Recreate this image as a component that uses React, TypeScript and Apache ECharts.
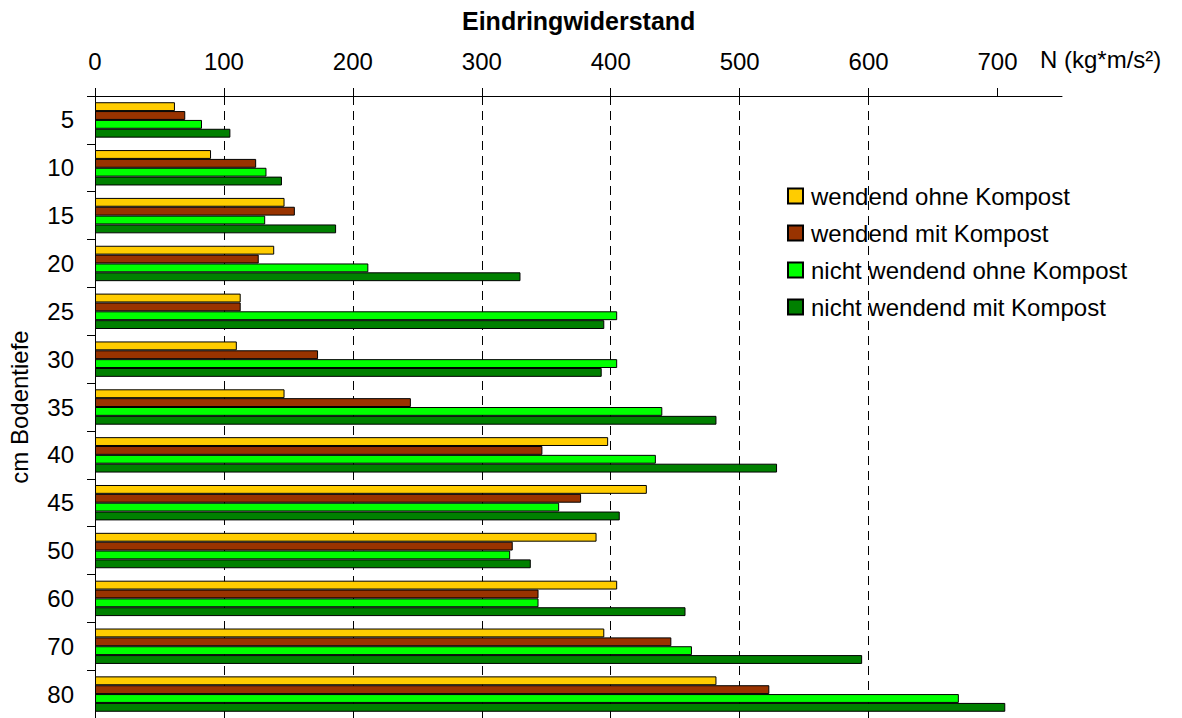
import React, { useEffect, useRef } from "react";
import * as echarts from "echarts";

const categories = ["5", "10", "15", "20", "25", "30", "35", "40", "45", "50", "60", "70", "80"];
const xTicks = [0, 100, 200, 300, 400, 500, 600, 700];
const xMax = 750;

const seriesNames = [
  "wendend ohne Kompost",
  "wendend mit Kompost",
  "nicht wendend ohne Kompost",
  "nicht wendend mit Kompost",
];
const seriesColors = ["#FFCC00", "#993300", "#00FF00", "#008000"];

const wendendOhne = [62, 90, 147, 139, 113, 110, 147, 398, 428, 389, 405, 395, 482];
const wendendMit = [70, 125, 155, 127, 113, 173, 245, 347, 377, 324, 344, 447, 523];
const nichtWendendOhne = [83, 133, 132, 212, 405, 405, 440, 435, 360, 322, 344, 463, 670];
const nichtWendendMit = [105, 145, 187, 330, 395, 393, 482, 529, 407, 338, 458, 595, 706];

const seriesData = [wendendOhne, wendendMit, nichtWendendOhne, nichtWendendMit];

const FONT = "'Liberation Sans', Arial, sans-serif";

export default function App() {
  const ref = useRef<HTMLDivElement>(null);

  useEffect(() => {
    if (!ref.current) return;
    const chart = echarts.init(ref.current, null, { renderer: "svg" });
    chart.setOption({
      animation: false,
      backgroundColor: "#ffffff",
      textStyle: { fontFamily: FONT, color: "#000" },
      title: {
        text: "Eindringwiderstand",
        left: 457,
        top: 3,
        textStyle: { fontFamily: FONT, fontSize: 25, fontWeight: "bold", color: "#000" },
      },
      legend: {
        orient: "vertical",
        left: 787,
        top: 184,
        padding: 0,
        itemWidth: 15,
        itemHeight: 15,
        itemGap: 13,
        icon: "rect",
        data: seriesNames,
        textStyle: { fontFamily: FONT, fontSize: 24, color: "#000", padding: [0, 0, 0, 3] },
      },
      grid: { left: 95, top: 96, right: 120, bottom: 0, outerBoundsMode: "none" },
      xAxis: {
        type: "value",
        position: "top",
        min: 0,
        max: xMax,
        interval: 100,
        name: "N (kg*m/s²)",
        nameLocation: "end",
        nameGap: -22,
        nameTextStyle: {
          fontFamily: FONT,
          fontSize: 24,
          color: "#000",
          align: "left",
          verticalAlign: "bottom",
          padding: [0, 0, 25, 0],
        },
        axisLine: { show: true, lineStyle: { color: "#000", width: 1 } },
        axisTick: { show: true, length: 8, inside: false, customValues: xTicks, lineStyle: { color: "#000" } },
        axisLabel: {
          fontFamily: FONT,
          fontSize: 24,
          color: "#000",
          margin: 23,
          customValues: xTicks,
        },
        splitLine: {
          show: true,
          showMinLine: false,
          showMaxLine: false,
          lineStyle: { color: "#000", width: 1, type: [9, 6] },
        },
      },
      yAxis: {
        type: "category",
        inverse: true,
        data: categories,
        name: "cm Bodentiefe",
        nameLocation: "middle",
        nameGap: 64,
        nameTextStyle: { fontFamily: FONT, fontSize: 24, color: "#000" },
        axisLine: { show: true, lineStyle: { color: "#000", width: 1 } },
        axisTick: { show: true, length: 8, inside: false, lineStyle: { color: "#000" } },
        axisLabel: { fontFamily: FONT, fontSize: 24, color: "#000", margin: 21 },
        splitLine: { show: false },
      },
      series: seriesNames.map((name, i) => ({
        name,
        type: "bar",
        data: seriesData[i],
        barGap: "0%",
        barCategoryGap: "26%",
        itemStyle: { color: seriesColors[i], borderColor: "#000", borderWidth: 1 },
      })),
    });
    return () => chart.dispose();
  }, []);

  return (
    <div
      ref={ref}
      style={{ position: "fixed", left: 0, top: 0, width: 1182, height: 718, background: "#fff" }}
    />
  );
}
